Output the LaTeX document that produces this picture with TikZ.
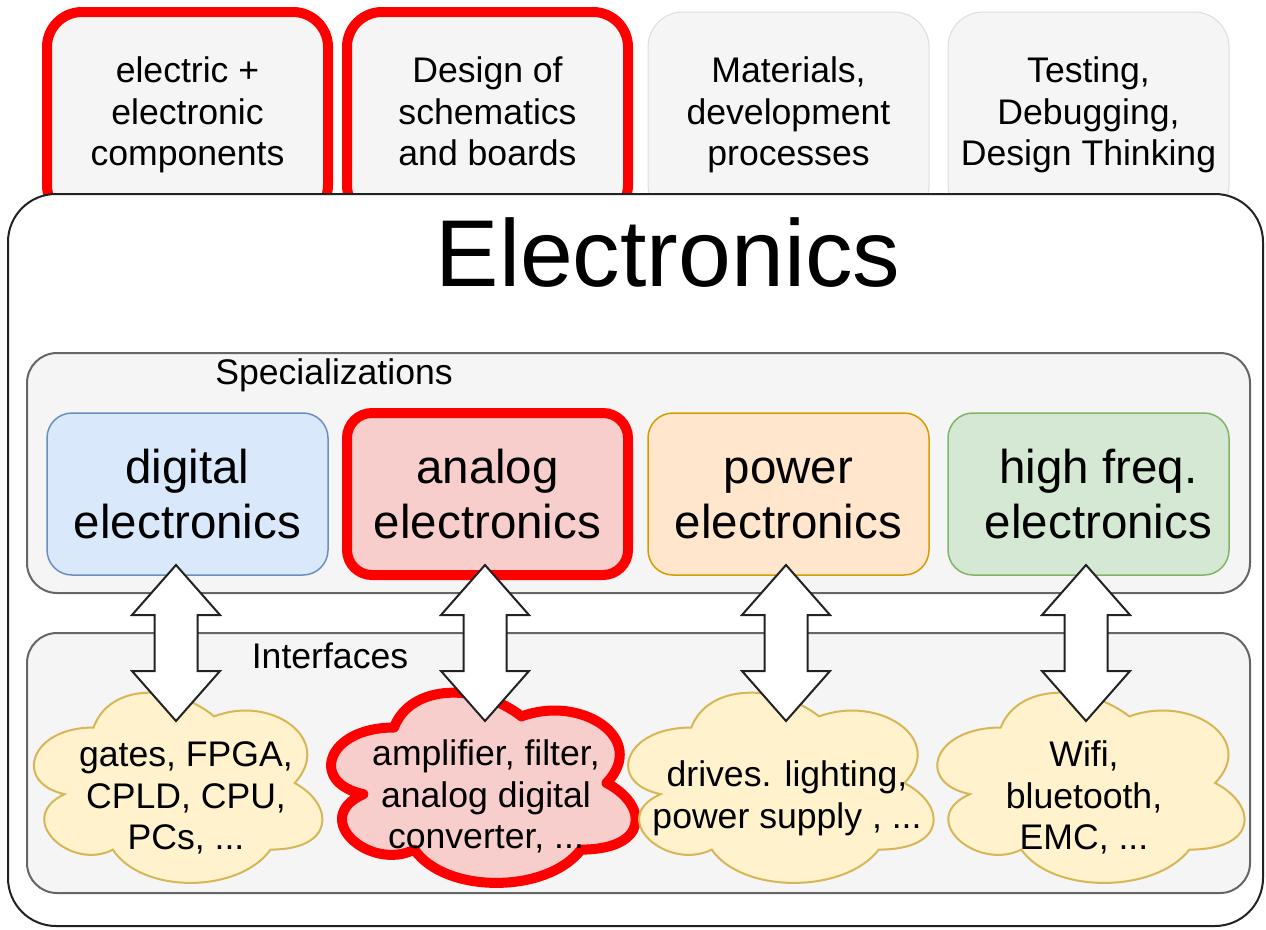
\documentclass[tikz,border=0pt]{standalone}
\usepackage{fontspec}
\setmainfont{Liberation Sans}
\usetikzlibrary{calc}
\definecolor{boxgray}{HTML}{F5F5F5}
\definecolor{boxgrayline}{HTML}{DDDDDD}
\definecolor{contline}{HTML}{666666}
\definecolor{redline}{HTML}{FF0000}
\definecolor{bluefill}{HTML}{DAE8FC}
\definecolor{blueline}{HTML}{6C8EBF}
\definecolor{redfill}{HTML}{F8CECC}
\definecolor{orangefill}{HTML}{FFE6CC}
\definecolor{orangeline}{HTML}{D79B00}
\definecolor{greenfill}{HTML}{D5E8D4}
\definecolor{greenline}{HTML}{82B366}
\definecolor{yellowfill}{HTML}{FFF2CC}
\definecolor{yellowline}{HTML}{D6B656}
\definecolor{darkline}{HTML}{222222}
\newcommand\fsA{\fontsize{35.6}{41.5}\selectfont}
\newcommand\fsB{\fontsize{47.5}{55}\selectfont}
\newcommand\fsC{\fontsize{95}{110}\selectfont}
\newcommand\cloudpath[5]{%
  \path[#1] ({#2+0.25*#4},{#3+0.25*#5}) .. controls ({#2+0.05*#4},{#3+0.25*#5}) and ({#2},{#3+0.5*#5}) .. ({#2+0.16*#4},{#3+0.55*#5})
  .. controls ({#2},{#3+0.66*#5}) and ({#2+0.18*#4},{#3+0.9*#5}) .. ({#2+0.31*#4},{#3+0.8*#5})
  .. controls ({#2+0.4*#4},{#3+#5}) and ({#2+0.7*#4},{#3+#5}) .. ({#2+0.8*#4},{#3+0.8*#5})
  .. controls ({#2+#4},{#3+0.8*#5}) and ({#2+#4},{#3+0.6*#5}) .. ({#2+0.875*#4},{#3+0.5*#5})
  .. controls ({#2+#4},{#3+0.3*#5}) and ({#2+0.8*#4},{#3+0.1*#5}) .. ({#2+0.625*#4},{#3+0.2*#5})
  .. controls ({#2+0.5*#4},{#3+0.05*#5}) and ({#2+0.3*#4},{#3+0.05*#5}) .. ({#2+0.25*#4},{#3+0.25*#5}) -- cycle;}
\newcommand\dblblock[2]{%
  \draw[blockarrow] let \p1=(#1), \p2=(#2) in
   (\x1,\y1) -- (\x1+44pt,\y1-50pt) -- (\x1+21.5pt,\y1-50pt) -- (\x1+21.5pt,\y2+50pt)
   -- (\x1+44pt,\y2+50pt) -- (\x1,\y2) -- (\x1-44pt,\y2+50pt) -- (\x1-21.5pt,\y2+50pt)
   -- (\x1-21.5pt,\y1-50pt) -- (\x1-44pt,\y1-50pt) -- cycle;}
\tikzset{
  topbox/.style={draw=boxgrayline, line width=1pt, fill=boxgray, rounded corners=35pt,
    minimum width=281pt, minimum height=208pt, align=center, font=\fsA, inner sep=0pt},
  topred/.style={topbox, draw=redline, line width=10pt},
  mainbox/.style={draw=darkline, line width=2pt, fill=white, rounded corners=48pt,
    minimum width=1255pt, minimum height=732pt, inner sep=0pt},
  container/.style={draw=contline, line width=2pt, fill=boxgray, rounded corners=30pt,
    minimum width=1223pt, inner sep=0pt},
  specbox/.style={line width=1.5pt, rounded corners=25pt, minimum width=281pt,
    minimum height=162pt, align=center, font=\fsB, inner sep=0pt},
  lbl/.style={font=\fsA, inner sep=0pt},
  cloudtext/.style={font=\fsA, align=center, inner sep=0pt},
  yellowcloud/.style={draw=yellowline, fill=yellowfill, line width=2pt},
  redcloud/.style={draw=redline, fill=redfill, line width=10pt, line join=round},
  blockarrow/.style={draw=darkline, fill=white, line width=2pt, line join=miter},
}
\begin{document}
\begin{tikzpicture}[x=1pt,y=-1pt]
\useasboundingbox (0,0) rectangle (1266,929);
% top boxes
\node[topred] (t1) at (187.5,116) {\strut electric +\\\strut electronic\\\strut components};
\node[topred] (t2) at (487.5,116) {\strut Design of\\\strut schematics\\\strut and boards};
\node[topbox] (t3) at (788.5,116) {\strut Materials,\\\strut development\\\strut processes};
\node[topbox] (t4) at (1088.5,116) {\strut Testing,\\\strut Debugging,\\\strut Design Thinking};
% main box
\node[mainbox] (main) at (635.5,560) {};
\node[font=\fsC, inner sep=0pt] (title) at (668,253) {Electronics};
% containers
\node[container, minimum height=240pt] (spec) at (638.5,473) {};
\node[lbl] (speclbl) at (334,375) {Specializations};
\node[container, minimum height=260pt] (intf) at (638.5,763) {};
\node[lbl] (intflbl) at (330,656) {Interfaces};
% specialization boxes
\node[specbox, draw=blueline, fill=bluefill] (dig) at (187.5,494) {};
\node[specbox, draw=redline, fill=redfill, line width=10pt] (ana) at (487.5,494) {};
\node[specbox, draw=orangeline, fill=orangefill] (pow) at (788.5,494) {};
\node[specbox, draw=greenline, fill=greenfill] (hf) at (1088.5,494) {};
\node[specbox, draw=none, fill=none] (digt) at (187.5,499.5) {\strut digital\\\strut electronics};
\node[specbox, draw=none, fill=none] (anat) at (487.5,499.5) {\strut analog\\\strut electronics};
\node[specbox, draw=none, fill=none] (powt) at (788.5,499.5) {\strut power\\\strut electronics};
\node[specbox, draw=none, fill=none] (hft) at (1098.5,499.5) {\strut high freq.\\\strut electronics};
% clouds
\cloudpath{yellowcloud}{13}{672}{322}{222}
\cloudpath{redcloud}{309}{672}{340}{222}
\cloudpath{yellowcloud}{606}{672}{341}{222}
\cloudpath{yellowcloud}{915}{672}{343}{222}
\node[cloudtext] (c1) at (186,800) {\strut gates, FPGA,\\\strut CPLD, CPU,\\\strut PCs, ...};
\node[cloudtext] (c2) at (486,799) {\strut amplifier, filter,\\\strut analog digital\\\strut converter, ...};
\node[cloudtext] (c3) at (787,799) {\strut drives. lighting,\\\strut power supply , ...};
\node[cloudtext] (c4) at (1084,800) {\strut Wifi,\\\strut bluetooth,\\\strut EMC, ...};
% arrow end points
\coordinate (a1t) at (176,565); \coordinate (a1b) at (176,721);
\coordinate (a2t) at (485,565); \coordinate (a2b) at (485,721);
\coordinate (a3t) at (786,565); \coordinate (a3b) at (786,721);
\coordinate (a4t) at (1086,565); \coordinate (a4b) at (1086,721);
\dblblock{a1t}{a1b}
\dblblock{a2t}{a2b}
\dblblock{a3t}{a3b}
\dblblock{a4t}{a4b}
\end{tikzpicture}
\end{document}
